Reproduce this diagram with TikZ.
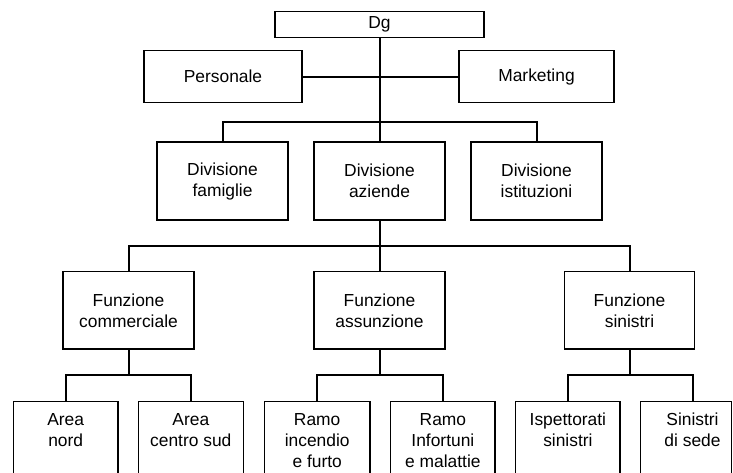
\documentclass[tikz,border=0pt]{standalone}
\usepackage{fontspec}
\setmainfont{Liberation Sans}
\begin{document}
\begin{tikzpicture}[x=1pt,y=-1pt,
  labelfont/.style={font=\fontsize{17.4}{21}\selectfont},
  unit/.style={draw, line width=1.4pt, inner sep=0pt, align=center, labelfont},
  leafbox/.style={draw, line width=1.4pt, inner sep=0pt, minimum height=100pt, anchor=north},
  leaftext/.style={anchor=north, inner sep=0pt, align=center, labelfont},
  link/.style={line width=2pt}]
\useasboundingbox (0,0) rectangle (733,472);
\fill[white] (0,0) rectangle (733,472);
\clip (0,0) rectangle (733,472);

% top management and staff
\node[unit, minimum width=209pt, minimum height=26pt] (dg) at (379.5,24.7) {Dg};
\node[unit, minimum width=158pt, minimum height=52pt] (pers) at (223,76.7) {Personale};
\node[unit, minimum width=155pt, minimum height=52pt] (mkt) at (536.5,76.7) {Marketing};

% divisions
\node[unit, minimum width=131pt, minimum height=78pt] (fam) at (222.5,181) {Divisione\\famiglie};
\node[unit, minimum width=131pt, minimum height=78pt] (az) at (379.5,181) {Divisione\\aziende};
\node[unit, minimum width=131pt, minimum height=78pt] (ist) at (536.5,181) {Divisione\\istituzioni};

% functions
\node[unit, minimum width=131pt, minimum height=77.5pt] (fc) at (128.5,310.4) {Funzione\\commerciale};
\node[unit, minimum width=131pt, minimum height=77.5pt] (fa) at (379.5,310.4) {Funzione\\assunzione};
\node[unit, minimum width=130pt, minimum height=77.5pt] (fs) at (629.5,310.4) {Funzione\\sinistri};

% operating units (boxes run past the lower edge)
\node[leafbox, minimum width=104.7pt] (l1) at (65.7,400.7) {};
\node[leafbox, minimum width=105pt] (l2) at (190.8,400.7) {};
\node[leafbox, minimum width=105.7pt] (l3) at (317.2,400.7) {};
\node[leafbox, minimum width=104.3pt] (l4) at (442.9,400.7) {};
\node[leafbox, minimum width=104.3pt] (l5) at (567.9,400.7) {};
\node[leafbox, minimum width=91pt] (l6) at (686.2,400.7) {};
\coordinate (l6top) at (692.9,400.7);

\node[leaftext] (t1) at (65.7,413) {Area\\nord};
\node[leaftext] (t2) at (190.8,413) {Area\\centro sud};
\node[leaftext] (t3) at (317.2,413) {Ramo\\incendio\\e furto};
\node[leaftext] (t4) at (442.9,413) {Ramo\\Infortuni\\e malattie};
\node[leaftext] (t5) at (567.9,413) {Ispettorati\\sinistri};
\node[leaftext] (t6) at (692.5,413) {Sinistri\\di sede};

% connectors
\coordinate (b1) at (379.5,121.7);
\coordinate (b2) at (379.5,245.7);
\coordinate (c1) at (128.5,375);
\coordinate (c2) at (379.5,375);
\coordinate (c3) at (629.5,375);

\draw[link] (dg.south) -- (az.north);
\draw[link] (pers.east) -- (mkt.west);
\draw[link] (fam.north) |- (b1) -| (ist.north);
\draw[link] (az.south) -- (b2);
\draw[link] (fc.north) |- (b2) -| (fs.north);
\draw[link] (b2) -- (fa.north);
\draw[link] (fc.south) -- (c1);
\draw[link] (fa.south) -- (c2);
\draw[link] (fs.south) -- (c3);
\draw[link] (l1.north) |- (c1) -| (l2.north);
\draw[link] (l3.north) |- (c2) -| (l4.north);
\draw[link] (l5.north) |- (c3) -| (l6top);
\end{tikzpicture}
\end{document}
